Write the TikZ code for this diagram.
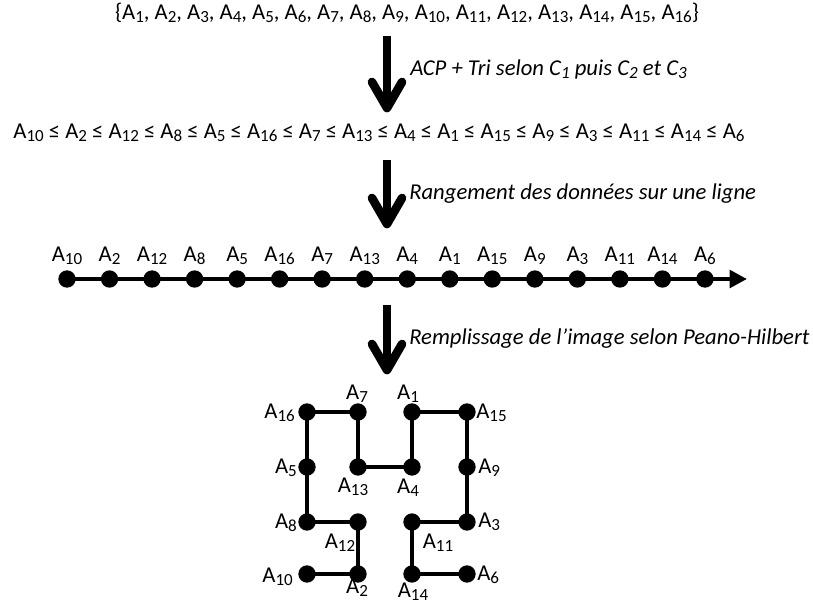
\documentclass[tikz,border=0pt]{standalone}
\usepackage{fontspec}
\setmainfont{Carlito}
\usetikzlibrary{arrows.meta,calc}
% lowered small index digits
\newcommand\idx[1]{\raisebox{-0.3ex}{\scalebox{0.75}{#1}}}
\begin{document}
\begin{tikzpicture}[x=0.75pt,y=-0.75pt,
  txt/.style={font=\fontsize{17}{20}\selectfont, inner sep=0pt},
  ital/.style={font=\fontsize{17}{20}\selectfont\itshape, inner sep=0pt},
  dot/.style={circle, fill=black, inner sep=0pt, minimum size=13pt},
  shaft/.style={line width=6.5pt},
  barb/.style={line width=6.5pt, line cap=round, line join=round},
  axis/.style={line width=3.2pt, -{Triangle[length=13pt,width=13pt]}},
  hline/.style={line width=3.7pt, line join=miter}]
\useasboundingbox (0,0) rectangle (813,603);

% the set of items
\node[txt, anchor=base] (set) at (407,19)
  {\{A\idx{1}, A\idx{2}, A\idx{3}, A\idx{4}, A\idx{5}, A\idx{6}, A\idx{7}, A\idx{8}, A\idx{9}, A\idx{10}, A\idx{11}, A\idx{12}, A\idx{13}, A\idx{14}, A\idx{15}, A\idx{16}\}};

% step 1
\coordinate (a1s) at (387,36);
\coordinate (a1e) at (387,108);
\draw[shaft] (a1s) -- (a1e);
\draw[barb] ($(a1e)+(-15,-26)$) -- (a1e) -- ($(a1e)+(15,-26)$);
\node[ital, anchor=base west] (l1) at (410,75)
  {ACP + Tri selon C\idx{1} puis C\idx{2} et C\idx{3}};

% sorted order
\node[txt, anchor=base] (ineq) at (379,138)
  {A\idx{10} ≤ A\idx{2} ≤ A\idx{12} ≤ A\idx{8} ≤ A\idx{5} ≤ A\idx{16} ≤ A\idx{7} ≤ A\idx{13} ≤ A\idx{4} ≤ A\idx{1} ≤ A\idx{15} ≤ A\idx{9} ≤ A\idx{3} ≤ A\idx{11} ≤ A\idx{14} ≤ A\idx{6}};

% step 2
\coordinate (a2s) at (387,160);
\coordinate (a2e) at (387,224);
\draw[shaft] (a2s) -- (a2e);
\draw[barb] ($(a2e)+(-15,-26)$) -- (a2e) -- ($(a2e)+(15,-26)$);
\node[ital, anchor=base west] (l2) at (409,199)
  {Rangement des données sur une ligne};

% items on a line
\coordinate (axend) at (747,279);
\foreach \n [count=\i from 0] in {10,2,12,8,5,16,7,13,4,1,15,9,3,11,14,6} {
  \node[dot] (p\n) at ({67+42.53*\i},279) {};
  \node[txt, anchor=base] (t\n) at ({67+42.53*\i},261) {A\idx{\n}};
}
\draw[axis] (p10.center) -- (axend);

% step 3
\coordinate (a3s) at (387,305);
\coordinate (a3e) at (387,370);
\draw[shaft] (a3s) -- (a3e);
\draw[barb] ($(a3e)+(-15,-26)$) -- (a3e) -- ($(a3e)+(15,-26)$);
\node[ital, anchor=base west] (l3) at (409,344)
  {Remplissage de l’image selon Peano-Hilbert};

% Peano-Hilbert filling
\foreach \n/\x/\y in {10/307/574, 2/358/574, 12/358/522, 8/307/522,
                      5/307/467, 16/307/412, 7/358/412, 13/358/467,
                      4/412/467, 1/412/412, 15/467/412, 9/467/467,
                      3/467/522, 11/412/522, 14/412/574, 6/467/574}
  \node[dot] (h\n) at (\x,\y) {};
\draw[hline] (h10.center) -- (h2.center) -- (h12.center) -- (h8.center)
  -- (h5.center) -- (h16.center) -- (h7.center) -- (h13.center)
  -- (h4.center) -- (h1.center) -- (h15.center) -- (h9.center)
  -- (h3.center) -- (h11.center) -- (h14.center) -- (h6.center);
% labels to the left of the curve
\foreach \n/\x/\y in {16/295/418, 5/297/473, 8/297/528, 10/293/582}
  \node[txt, anchor=base east] (g\n) at (\x,\y) {A\idx{\n}};
% labels to the right of the curve
\foreach \n/\x/\y in {15/476/418, 9/478/473, 3/478/527, 6/477/580}
  \node[txt, anchor=base west] (g\n) at (\x,\y) {A\idx{\n}};
% labels above and below the curve
\foreach \n/\x/\y in {7/357/399, 1/408/399, 13/353/492, 4/408/493,
                      12/340/548, 11/438/548, 2/357/593, 14/413/597}
  \node[txt, anchor=base] (g\n) at (\x,\y) {A\idx{\n}};
\end{tikzpicture}
\end{document}
